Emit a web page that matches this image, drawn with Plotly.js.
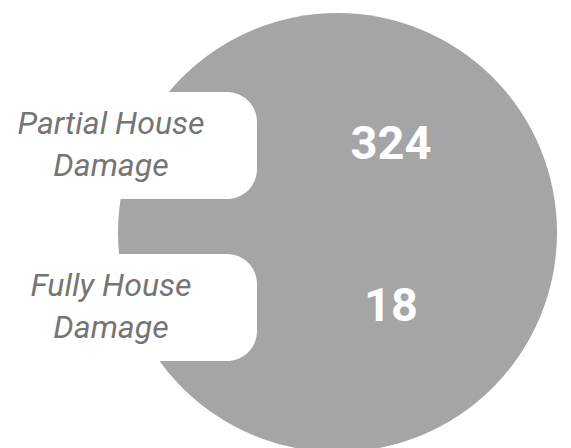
<!DOCTYPE html>
<html>
<head>
<meta charset="utf-8">
<script src="https://cdn.plot.ly/plotly-3.0.1.min.js"></script>
<style>
  html, body { margin: 0; padding: 0; background: #ffffff; }
  #chart { width: 571px; height: 448px; }
</style>
</head>
<body>
<div id="chart"></div>
<script>
// ---- data ----
const categories = ["Partial House<br>Damage", "Fully House<br>Damage"];
const values = [324, 18];

// ---- style ----
const circleColor = "#a4a5a7";
const labelColor = "#757575";
const labelX = 111;
const valueX = 391;

const labelTrace = {
  type: "scatter",
  mode: "text",
  x: categories.map(() => labelX),
  y: categories,
  text: categories,
  textposition: "middle center",
  textfont: { family: "Roboto, sans-serif", size: 32, color: labelColor, style: "italic" },
  hoverinfo: "skip",
  cliponaxis: false
};

const valueTrace = {
  type: "scatter",
  mode: "text",
  x: values.map(() => valueX),
  y: categories,
  text: values.map(v => String(v)),
  textposition: "middle center",
  textfont: { family: "Roboto, sans-serif", size: 47, color: "#ffffff", weight: "bold" },
  hoverinfo: "skip",
  cliponaxis: false
};

function roundedRect(top, bottom, right, r) {
  const k = r * 0.5523;
  return "M -30," + top +
    " L " + (right - r) + "," + top +
    " C " + (right - r + k) + "," + top + " " + right + "," + (top + r - k) + " " + right + "," + (top + r) +
    " L " + right + "," + (bottom - r) +
    " C " + right + "," + (bottom - r + k) + " " + (right - r + k) + "," + bottom + " " + (right - r) + "," + bottom +
    " L -30," + bottom + " Z";
}

const layout = {
  width: 571,
  height: 448,
  margin: { l: 0, r: 0, t: 0, b: 0, pad: 0 },
  paper_bgcolor: "#ffffff",
  plot_bgcolor: "#ffffff",
  showlegend: false,
  hovermode: false,
  xaxis: { range: [0, 571], visible: false, fixedrange: true },
  yaxis: {
    type: "category",
    categoryorder: "array",
    categoryarray: categories,
    range: [1.8580, -0.9074],
    visible: false,
    fixedrange: true
  },
  yaxis2: { overlaying: "y", range: [448, 0], visible: false, fixedrange: true },
  shapes: [
    {
      type: "circle", xref: "x", yref: "y2",
      x0: 118, x1: 557, y0: 13, y1: 452,
      fillcolor: circleColor, line: { width: 0 }, layer: "below"
    },
    {
      type: "path", xref: "x", yref: "y2",
      path: roundedRect(92, 199, 257, 30),
      fillcolor: "#ffffff", line: { width: 0 }, layer: "below"
    },
    {
      type: "path", xref: "x", yref: "y2",
      path: roundedRect(254, 361, 257, 30),
      fillcolor: "#ffffff", line: { width: 0 }, layer: "below"
    }
  ]
};

Plotly.newPlot("chart", [labelTrace, valueTrace], layout, { displayModeBar: false, staticPlot: true });
</script>
</body>
</html>
